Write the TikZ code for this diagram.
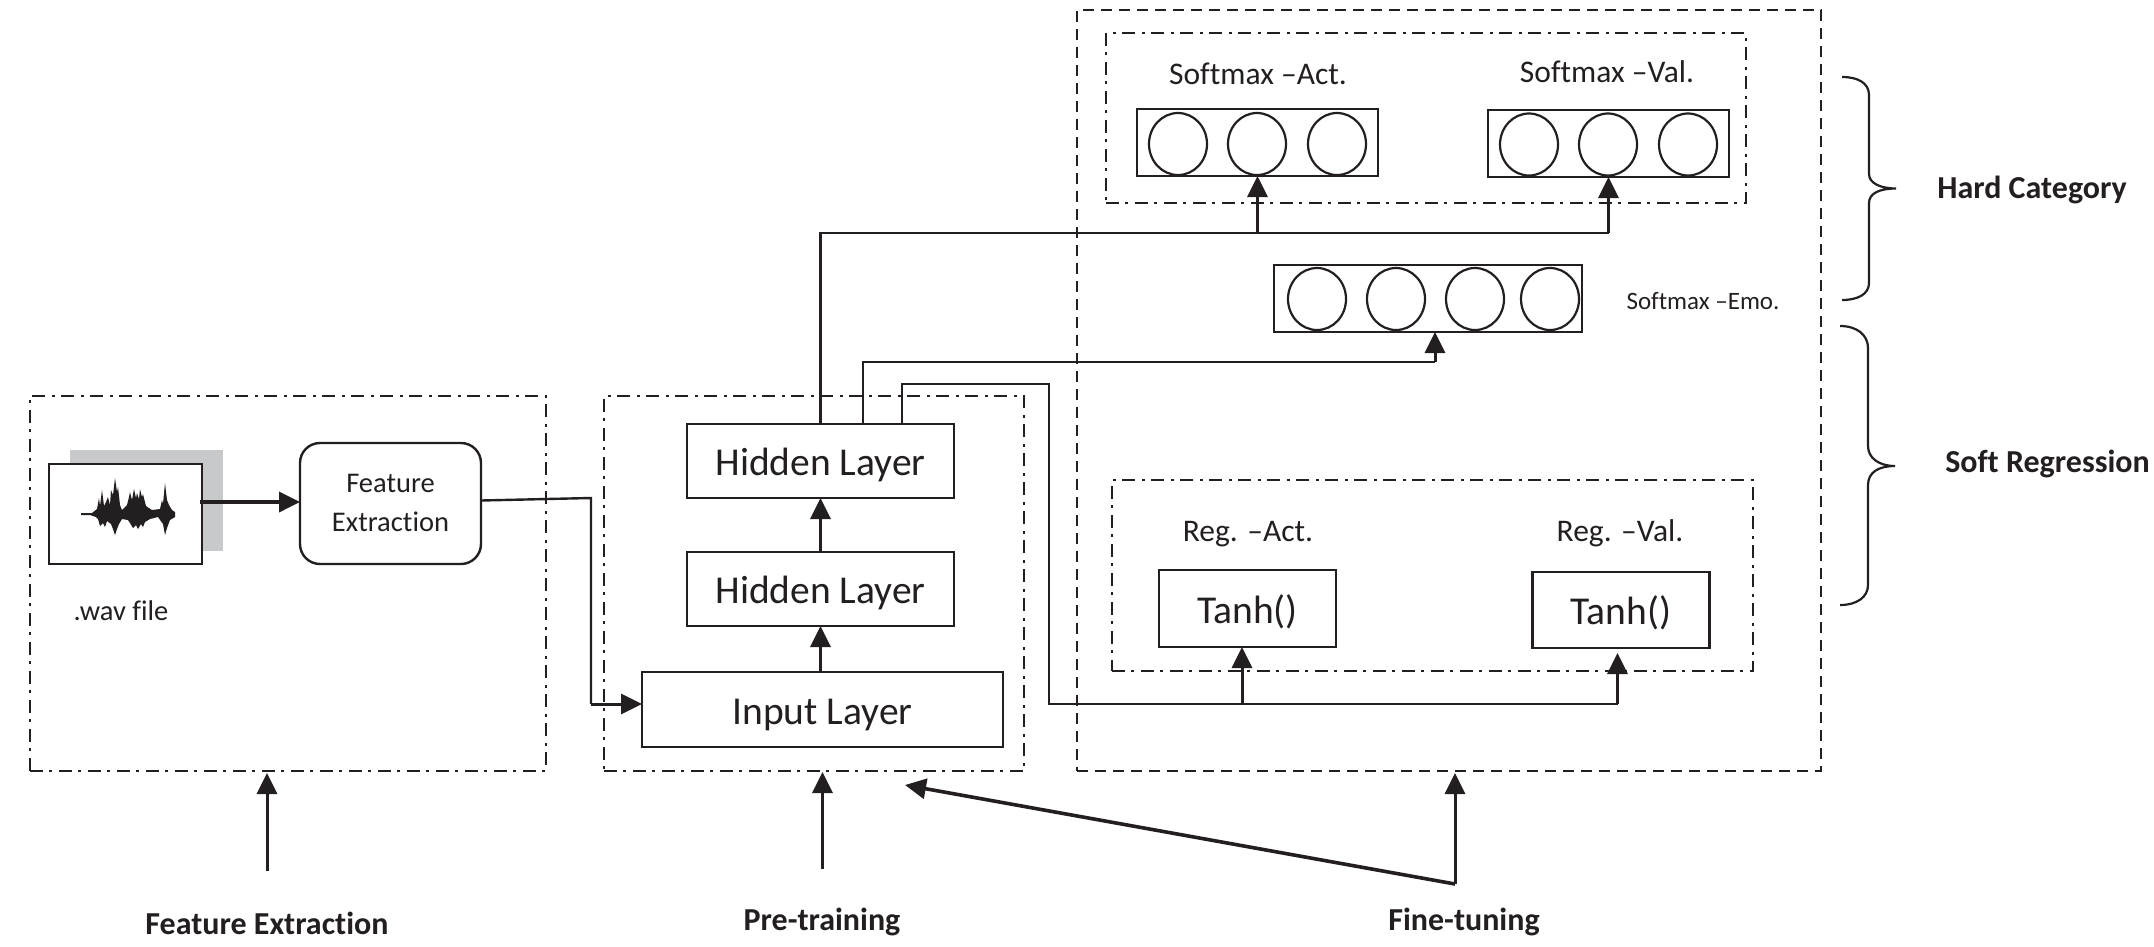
\documentclass[tikz,border=0pt]{standalone}
\usepackage{fontspec}
\setmainfont[Ligatures=NoCommon]{Carlito}
\usetikzlibrary{arrows.meta,calc,shapes.geometric}
\definecolor{ink}{HTML}{231F20}
\definecolor{shade}{HTML}{C8C9CB}
\newcommand{\fs}[1]{\fontsize{#1}{#1}\selectfont}
\tikzset{
  x=1pt,y=-1pt,
  every node/.style={inner sep=0pt,outer sep=0pt,text=ink},
  ddbox/.style={draw=ink,line width=2.2pt,dash pattern=on 13pt off 6pt on 3pt off 7pt},
  dbox/.style={draw=ink,line width=2.2pt,dash pattern=on 11pt off 7pt},
  solidbox/.style={draw=ink,line width=2.4pt,rectangle},
  layer/.style={solidbox,font=\fs{39.5},text height=29pt,text depth=0pt},
  cell/.style={draw=ink,line width=2.2pt,ellipse,minimum width=58pt,minimum height=62pt},
  wire/.style={draw=ink,line width=2.4pt},
  arr/.style={draw=ink,line width=3pt,-{Triangle[length=21pt,width=20pt,color=ink]}},
  lab/.style={anchor=base,font=\fs{31.5}},
  blab/.style={anchor=base,font=\fs{32}\bfseries},
}
\begin{document}
\begin{tikzpicture}
\useasboundingbox (0,0) rectangle (2154,946);
% stage frames
\node[ddbox,minimum width=516pt,minimum height=375pt] (stageA) at (288,583.5) {};
\node[ddbox,minimum width=420pt,minimum height=375pt] (stageB) at (814,583.5) {};
\node[dbox,minimum width=744pt,minimum height=761pt] (stageC) at (1449,390.5) {};
\node[ddbox,minimum width=640pt,minimum height=170pt] (hardframe) at (1426,118) {};
\node[ddbox,minimum width=641pt,minimum height=191pt] (softframe) at (1432.5,575.5) {};
% wav
\node[fill=shade,minimum width=153pt,minimum height=101pt] (wavshadow) at (146.5,500.5) {};
\node[solidbox,fill=white,minimum width=153pt,minimum height=100pt] (wav) at (125.5,514) {};
\fill[ink] (81,513)--(92,513)--(97,509)--(99,498)--(100,506)--(102,490)--(104,506)--(106,502)--(108,497)--(110,505)--(111,490)--(113,495)--(115,478)--(117,492)--(118,487)--(120,505)--(122,510)--(124,508)--(127,505)--(129,497)--(130,492)--(132,500)--(134,489)--(136,498)--(137,493)--(139,499)--(140,489)--(142,497)--(143,494)--(146,506)--(152,510)--(160,509)--(162,500)--(163,504)--(165,483)--(167,500)--(169,505)--(172,510)--(175,512)--(175,517)--(170,520)--(167,528)--(165,535)--(163,524)--(158,517)--(150,519)--(145,522)--(143,527)--(141,524)--(138,529)--(136,525)--(133,528)--(130,523)--(128,520)--(122,519)--(119,524)--(117,529)--(115,535)--(113,529)--(111,524)--(107,521)--(105,527)--(103,523)--(100,526)--(98,519)--(96,517)--(90,515)--(81,515)--cycle;
\node[lab,font=\fs{28.5}] (wavlabel) at (121,620.5) {.wav file};
\node[solidbox,rounded corners=20pt,minimum width=181pt,minimum height=121pt] (fe) at (390.5,503.5) {};
\node[align=center,font=\fs{28.5}] (fetext) at (390.5,503) {Feature\\[11pt]Extraction};
% layers
\node[layer,minimum width=267pt,minimum height=74pt] (hltop) at (820.5,461) {Hidden Layer};
\node[layer,minimum width=267pt,minimum height=74pt] (hlmid) at (820.5,589) {Hidden Layer};
\node[layer,minimum width=361pt,minimum height=75pt] (input) at (822.5,709.5) {Input Layer};
% softmax act
\node[solidbox,minimum width=241pt,minimum height=67pt] (sa) at (1257.5,142.5) {};
\node[cell] (sa1) at (1178,144) {};
\node[cell] (sa2) at (1257,144) {};
\node[cell] (sa3) at (1337,144) {};
\node[lab] (salabel) at (1258,84) {Softmax –Act.};
% softmax val
\node[solidbox,minimum width=241pt,minimum height=67pt] (sv) at (1608.5,143.5) {};
\node[cell] (sv1) at (1529,144.5) {};
\node[cell] (sv2) at (1608,144.5) {};
\node[cell] (sv3) at (1688,144.5) {};
\node[lab] (svlabel) at (1607,82.5) {Softmax –Val.};
% softmax emo
\node[solidbox,minimum width=308pt,minimum height=67pt] (se) at (1428,298.5) {};
\node[cell] (se1) at (1317,299) {};
\node[cell] (se2) at (1396,299) {};
\node[cell] (se3) at (1475,299) {};
\node[cell] (se4) at (1550,299) {};
\node[lab,font=\fs{25}] (selabel) at (1703,309) {Softmax –Emo.};
% regression
\node[layer,minimum width=177pt,minimum height=77pt] (tl) at (1247.5,608.5) {Tanh()};
\node[layer,minimum width=177pt,minimum height=76pt] (tr) at (1621,610) {Tanh()};
\node[lab] (tllabel) at (1248,541) {Reg. –Act.};
\node[lab] (trlabel) at (1620,541) {Reg. –Val.};
% junctions
\coordinate (wavout) at (200,502);
\coordinate (feentry) at (fe.west |- wavout);
\coordinate (feout) at (481,500.5);
\coordinate (drop) at (591,498);
\coordinate (inentry) at (642,704);
\coordinate (busA) at (1608.5,233);
\coordinate (exitB) at (863,424);
\coordinate (kneeB) at (863,362);
\coordinate (emoin) at (1435,362);
\coordinate (emotip) at (1435,332);
\coordinate (exitC) at (902,424);
\coordinate (kneeC) at (902,384);
\coordinate (kneeD) at (1049,384);
\coordinate (kneeE) at (1049,704);
\coordinate (tlfoot) at (1242,704);
\coordinate (tltip) at (1242,647);
\coordinate (trfoot) at (1617.5,704);
\coordinate (trtip) at (1617.5,653);
\coordinate (tailA) at (267,871);
\coordinate (tipA) at (267,773);
\coordinate (tailB) at (822.5,869);
\coordinate (tipB) at (822.5,772);
\coordinate (tailC) at (1455,884);
\coordinate (tipC) at (1455,773);
\coordinate (tipD) at (905,785);
% connectors
\draw[arr,line width=3.6pt] (wavout) -- (feentry);
\draw[wire] (feout) -- (drop) -- (drop |- inentry);
\draw[arr] (drop |- inentry) -- (inentry);
\draw[arr] (input.north -| hlmid.south) -- (hlmid.south);
\draw[arr] (hlmid.north) -- (hltop.south);
\draw[wire] (hltop.north) -- (hltop.north |- busA) -- (busA);
\draw[arr] (sa.south |- busA) -- (sa.south);
\draw[arr] (busA) -- (sv.south);
\draw[wire] (exitB) -- (kneeB) -- (emoin);
\draw[arr] (emoin) -- (emotip);
\draw[wire] (exitC) -- (kneeC) -- (kneeD) -- (kneeE) -- (trfoot);
\draw[arr] (tlfoot) -- (tltip);
\draw[arr] (trfoot) -- (trtip);
\draw[arr] (tailA) -- (tipA);
\draw[arr] (tailB) -- (tipB);
\draw[arr] (tailC) -- (tipC);
\draw[arr,line width=3.6pt] (tailC) -- (tipD);
% braces
\draw[ink,line width=2.2pt] (1842,77) .. controls (1858,77) and (1869,83) .. (1869,95) -- (1869,174) .. controls (1869,183) and (1880,188.5) .. (1896,188.5) .. controls (1880,188.5) and (1869,193) .. (1869,203) -- (1869,283) .. controls (1869,294) and (1858,300) .. (1842,300);
\draw[ink,line width=2.2pt] (1840,326) .. controls (1857,326) and (1868,335) .. (1868,348) -- (1868,446) .. controls (1868,458) and (1879,466) .. (1895,466) .. controls (1879,466) and (1868,472) .. (1868,485) -- (1868,585) .. controls (1868,597) and (1857,605) .. (1840,605);
% captions
\node[blab] (hard) at (2032,198) {Hard Category};
\node[blab] (soft) at (2047.5,472.5) {Soft Regression};
\node[blab] (capA) at (267,934.5) {Feature Extraction};
\node[blab] (capB) at (822,930) {Pre-training};
\node[blab] (capC) at (1464,930) {Fine-tuning};
\end{tikzpicture}
\end{document}
